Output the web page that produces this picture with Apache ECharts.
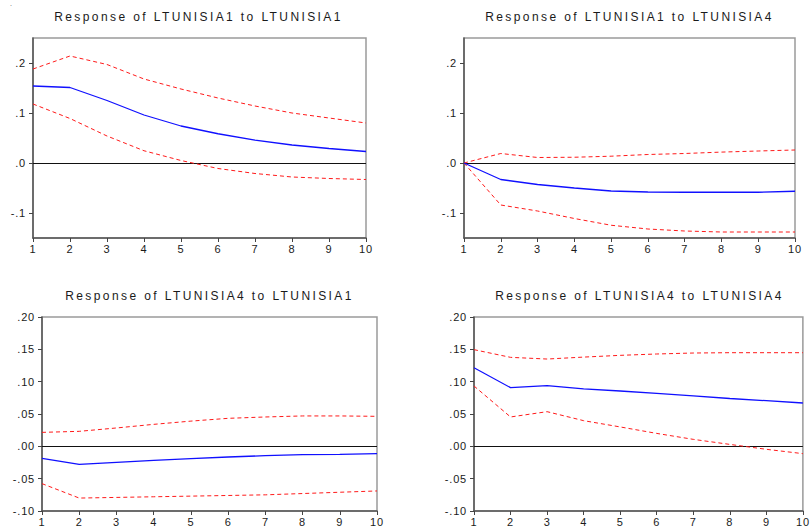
<!DOCTYPE html>
<html>
<head>
<meta charset="utf-8">
<script src="https://cdn.jsdelivr.net/npm/echarts@6/dist/echarts.min.js"></script>
<style>
  html, body { margin: 0; padding: 0; background: #fff; }
  #chart { width: 812px; height: 527px; }
</style>
</head>
<body>
<div id="chart"></div>
<script>
// ---- data ----
var periods = [1, 2, 3, 4, 5, 6, 7, 8, 9, 10];

var titles = [
  'Response of LTUNISIA1 to LTUNISIA1',
  'Response of LTUNISIA1 to LTUNISIA4',
  'Response of LTUNISIA4 to LTUNISIA1',
  'Response of LTUNISIA4 to LTUNISIA4'
];

// Panel 1: LTUNISIA1 -> LTUNISIA1
var p1Resp  = [0.154, 0.151, 0.125, 0.096, 0.074, 0.0585, 0.0456, 0.036, 0.029, 0.023];
var p1Upper = [0.188, 0.214, 0.197, 0.168, 0.148, 0.130, 0.114, 0.100, 0.090, 0.080];
var p1Lower = [0.118, 0.089, 0.054, 0.0245, 0.005, -0.011, -0.021, -0.028, -0.031, -0.033];

// Panel 2: LTUNISIA1 -> LTUNISIA4
var p2Resp  = [0.0, -0.033, -0.043, -0.050, -0.056, -0.058, -0.0585, -0.0585, -0.0585, -0.0565];
var p2Upper = [0.0, 0.019, 0.011, 0.0115, 0.0136, 0.017, 0.019, 0.0218, 0.024, 0.026];
var p2Lower = [0.0, -0.084, -0.096, -0.111, -0.1245, -0.132, -0.136, -0.138, -0.138, -0.138];

// Panel 3: LTUNISIA4 -> LTUNISIA1
var p3Resp  = [-0.0186, -0.028, -0.0247, -0.0216, -0.019, -0.0165, -0.0144, -0.0129, -0.0124, -0.0113];
var p3Upper = [0.0216, 0.0232, 0.0284, 0.034, 0.039, 0.0433, 0.0454, 0.047, 0.047, 0.0464];
var p3Lower = [-0.0577, -0.080, -0.079, -0.078, -0.077, -0.076, -0.075, -0.073, -0.071, -0.069];

// Panel 4: LTUNISIA4 -> LTUNISIA4
var p4Resp  = [0.1216, 0.0907, 0.0938, 0.089, 0.0856, 0.082, 0.078, 0.074, 0.0706, 0.067];
var p4Upper = [0.1495, 0.1376, 0.135, 0.138, 0.1407, 0.1428, 0.1443, 0.1448, 0.1448, 0.1448];
var p4Lower = [0.0933, 0.0454, 0.0536, 0.0397, 0.030, 0.020, 0.0108, 0.003, -0.0046, -0.0113];

// tick values / labels
var topTickValues = [-0.1, 0.0, 0.1, 0.2];
var topTickLabels = ['-.1', '.0', '.1', '.2'];
var botTickValues = [-0.10, -0.05, 0.00, 0.05, 0.10, 0.15, 0.20];
var botTickLabels = ['-.10', '-.05', '.00', '.05', '.10', '.15', '.20'];

// ---- layout ----
var grids = [
  { left: 33,  top: 38,  width: 333, height: 200 },
  { left: 464, top: 38,  width: 331, height: 200 },
  { left: 42,  top: 317, width: 335, height: 194 },
  { left: 474, top: 317, width: 331, height: 194 }
];
var titlePos = [
  { x: 198.5, y: 11 },
  { x: 629.5, y: 11 },
  { x: 209.5, y: 290 },
  { x: 639.5, y: 290 }
];
var yRanges = [
  { min: -0.15, max: 0.25, vals: topTickValues, labels: topTickLabels },
  { min: -0.15, max: 0.25, vals: topTickValues, labels: topTickLabels },
  { min: -0.10, max: 0.20, vals: botTickValues, labels: botTickLabels },
  { min: -0.10, max: 0.20, vals: botTickValues, labels: botTickLabels }
];
var panels = [
  [p1Resp, p1Upper, p1Lower],
  [p2Resp, p2Upper, p2Lower],
  [p3Resp, p3Upper, p3Lower],
  [p4Resp, p4Upper, p4Lower]
];

var FONT = 'Liberation Sans, Arial, sans-serif';

function pairs(vals) {
  return periods.map(function (p, i) { return [p, vals[i]]; });
}

function labelFor(r) {
  return function (v) {
    var best = 0, bd = Infinity;
    for (var i = 0; i < r.vals.length; i++) {
      var d = Math.abs(r.vals[i] - v);
      if (d < bd) { bd = d; best = i; }
    }
    return r.labels[best];
  };
}

var option = {
  animation: false,
  backgroundColor: '#ffffff',
  title: titles.map(function (t, i) {
    return {
      text: t,
      left: titlePos[i].x,
      top: titlePos[i].y,
      textAlign: 'center',
      padding: 0,
      textStyle: { fontFamily: FONT, fontSize: 12, fontWeight: 'normal', color: '#1a1a1a', lineHeight: 12 }
    };
  }),
  graphic: [
    { type: 'text', left: 10, top: 0, style: { text: '.', font: '7px Liberation Sans', fill: '#555' } }
  ],
  grid: grids.map(function (g) {
    return { left: g.left, top: g.top, width: g.width, height: g.height,
             show: true, borderColor: '#9a9a9a', borderWidth: 1.5, backgroundColor: 'transparent' };
  }),
  xAxis: grids.map(function (g, i) {
    return {
      type: 'value', gridIndex: i, min: 1, max: 10, interval: 1,
      axisLine: { show: true, onZero: false, lineStyle: { color: '#555', width: 1.5 } },
      axisTick: { show: true, inside: false, length: 4, lineStyle: { color: '#444', width: 1 } },
      axisLabel: { fontFamily: FONT, fontSize: 11, color: '#1a1a1a', margin: 5 },
      splitLine: { show: false }
    };
  }),
  yAxis: yRanges.map(function (r, i) {
    return {
      type: 'value', gridIndex: i, min: r.min, max: r.max,
      axisLine: { show: true, onZero: false, lineStyle: { color: '#555', width: 1.5 } },
      axisTick: { show: true, inside: false, length: 4, customValues: r.vals, lineStyle: { color: '#444', width: 1 } },
      axisLabel: { fontFamily: FONT, fontSize: 11, color: '#1a1a1a', margin: 7,
                   customValues: r.vals, formatter: labelFor(r) },
      splitLine: { show: false }
    };
  }),
  series: []
};

panels.forEach(function (pn, i) {
  option.series.push({
    type: 'line', xAxisIndex: i, yAxisIndex: i, data: pairs(pn[0]),
    symbol: 'none', z: 4,
    lineStyle: { color: '#1010ff', width: 1.3, type: 'solid' },
    markLine: {
      silent: true, symbol: 'none', label: { show: false },
      lineStyle: { color: '#111', width: 1, type: 'solid' },
      data: [{ yAxis: 0 }], z: 2
    }
  });
  option.series.push({
    type: 'line', xAxisIndex: i, yAxisIndex: i, data: pairs(pn[1]),
    symbol: 'none', z: 3,
    lineStyle: { color: '#ff1a1a', width: 1, type: [4, 3] }
  });
  option.series.push({
    type: 'line', xAxisIndex: i, yAxisIndex: i, data: pairs(pn[2]),
    symbol: 'none', z: 3,
    lineStyle: { color: '#ff1a1a', width: 1, type: [4, 3] }
  });
});

var chart = echarts.init(document.getElementById('chart'), null, { renderer: 'svg' });
chart.setOption(option);

function applySpacing() {
  var texts = document.querySelectorAll('#chart svg text');
  texts.forEach(function (t) {
    var s = t.textContent || '';
    if (s.indexOf('Response') === 0) {
      t.setAttribute('letter-spacing', '2.4');
    } else if (s !== '.') {
      t.setAttribute('letter-spacing', '0.8');
    }
  });
}
applySpacing();
chart.on('finished', applySpacing);
setTimeout(applySpacing, 50);
</script>
</body>
</html>
